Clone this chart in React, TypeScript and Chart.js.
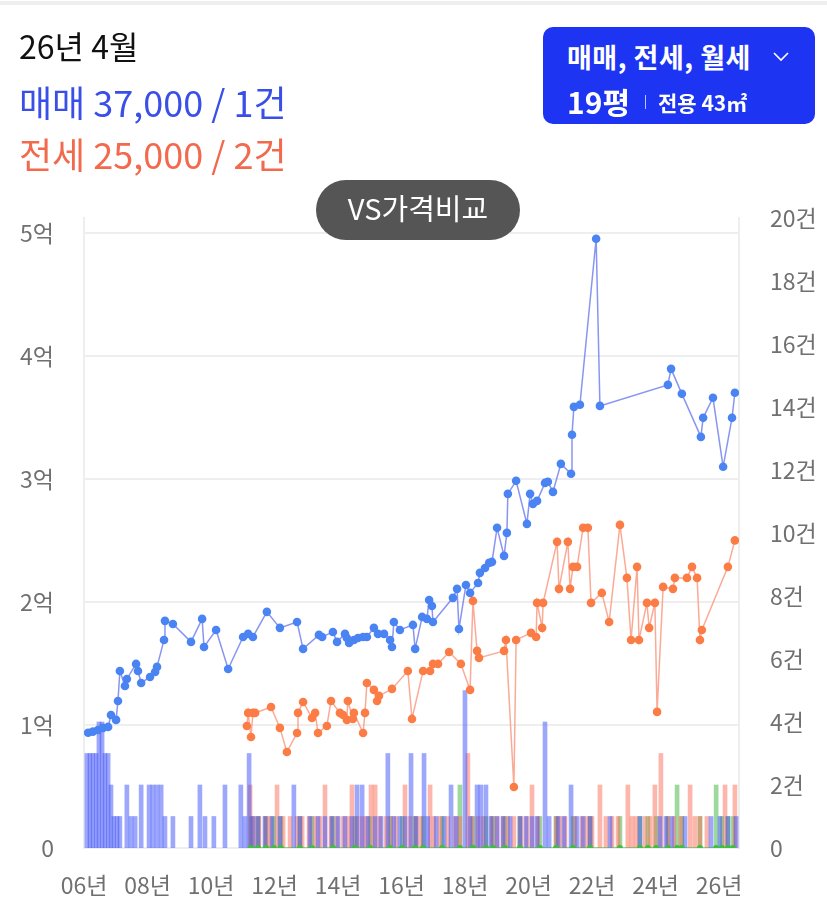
import React, { useEffect, useRef } from "react";
import { Chart, registerables } from "chart.js";

Chart.register(...registerables);

// ---- data ----
const xTickYears = [2006, 2008, 2010, 2012, 2014, 2016, 2018, 2020, 2022, 2024, 2026];
const priceTicks = [0, 10000, 20000, 30000, 40000, 50000];
const countTicks = [0, 2, 4, 6, 8, 10, 12, 14, 16, 18, 20];

// 매매 price line (만원)
const saleX = [
  2006.13, 2006.28, 2006.44, 2006.6, 2006.76, 2006.85, 2007.01, 2007.07, 2007.13, 2007.29, 2007.35,
  2007.64, 2007.7, 2007.8, 2008.08, 2008.24, 2008.3, 2008.52, 2008.55, 2008.8, 2009.37, 2009.72,
  2009.78, 2010.16, 2010.54, 2011.01, 2011.17, 2011.32, 2011.76, 2012.17, 2012.71, 2012.9, 2013.4,
  2013.5, 2013.84, 2013.97, 2014.22, 2014.28, 2014.35, 2014.5, 2014.63, 2014.79, 2014.91, 2015.13,
  2015.26, 2015.45, 2015.64, 2015.7, 2015.76, 2015.95, 2016.36, 2016.43, 2016.65, 2016.8, 2016.87,
  2016.96, 2016.99, 2017.62, 2017.75, 2017.81, 2018.03, 2018.16, 2018.41, 2018.47, 2018.63, 2018.76,
  2018.85, 2019.01, 2019.23, 2019.32, 2019.35, 2019.61, 2019.95, 2020.05, 2020.14, 2020.27, 2020.52,
  2020.61, 2020.77, 2021.02, 2021.34, 2021.37, 2021.43, 2021.62, 2022.13, 2022.25, 2024.39, 2024.49,
  2024.83, 2025.43, 2025.5, 2025.81, 2026.13, 2026.41, 2026.5,
];
const saleY = [
  9370, 9460, 9590, 9760, 9840, 10810, 10410, 11950, 14390, 13170, 13740,
  14960, 14390, 13410, 13900, 14310, 14720, 16910, 18460, 18210, 16750, 18620,
  16340, 17720, 14550, 17150, 17400, 17150, 19190, 17890, 18370, 16180, 17320,
  17150, 17560, 16750, 17400, 17070, 16670, 16910, 17070, 17150, 17150, 17890,
  17400, 17400, 16910, 16340, 18370, 17720, 18130, 16180, 18780, 18620, 20160,
  19670, 18370, 20330, 21060, 17800, 21380, 20730, 21540, 22360, 22760, 23170,
  23250, 26020, 23740, 25610, 28780, 29840, 26340, 28780, 27970, 28210, 29670,
  29760, 28940, 31220, 30410, 33580, 35850, 36020, 49510, 35930, 37640, 38940,
  36910, 33410, 34960, 36590, 30980, 34960, 37000,
];

// 전세 price line (만원)
const jeonseX = [
  2011.13, 2011.17, 2011.26, 2011.32, 2011.39, 2011.89, 2012.17, 2012.39, 2012.71, 2012.74, 2012.9,
  2013.18, 2013.28, 2013.37, 2013.65, 2013.78, 2014.06, 2014.16, 2014.28, 2014.31, 2014.47, 2014.5,
  2014.79, 2014.85, 2014.91, 2015.13, 2015.23, 2015.29, 2015.7, 2016.2, 2016.33, 2016.68, 2016.9,
  2016.99, 2017.15, 2017.5, 2017.87, 2018.16, 2018.25, 2018.38, 2018.44, 2019.23, 2019.29, 2019.54,
  2019.61, 2020.08, 2020.24, 2020.27, 2020.43, 2020.46, 2020.9, 2020.96, 2021.24, 2021.31, 2021.4,
  2021.53, 2021.72, 2021.87, 2021.97, 2022.31, 2022.54, 2022.88, 2023.1, 2023.23, 2023.42, 2023.48,
  2023.73, 2023.8, 2023.98, 2024.05, 2024.24, 2024.55, 2024.61, 2024.99, 2025.15, 2025.31, 2025.4,
  2025.46, 2026.28, 2026.5,
];
const jeonseY = [
  9920, 10980, 9020, 10980, 10980, 11460, 9760, 7800, 9350, 10980, 11870,
  10570, 10980, 9350, 9920, 11950, 10980, 10810, 10410, 11950, 10490, 10980,
  9350, 10980, 13410, 12850, 11950, 12360, 12930, 14390, 10490, 14390, 14390,
  14960, 14960, 15930, 14960, 12850, 20080, 16020, 15450, 16020, 16910, 4960,
  16910, 17480, 17150, 19920, 17890, 19920, 24880, 21060, 24880, 21060, 22850,
  22850, 26020, 26020, 19920, 20730, 18370, 26260, 21950, 16910, 22850, 16910,
  19920, 17890, 19920, 11060, 21220, 21060, 21950, 21950, 22850, 21950, 16910,
  17720, 22850, 25000,
];

// 월세 (monthly rent) markers
const rentX = [
  2011.26, 2011.48, 2011.73, 2011.98, 2012.2, 2012.8, 2013.18, 2013.84, 2014.54, 2015.01, 2015.64,
  2016.02, 2016.43, 2016.68, 2017.28, 2017.84, 2018.25, 2018.66, 2018.88, 2019.26, 2019.73, 2020.36,
  2020.87, 2021.4, 2021.94, 2022.88, 2023.51, 2023.76, 2024.02, 2024.39, 2024.68, 2024.83, 2025.4,
  2025.91, 2026.09, 2026.28, 2026.44,
];
const rentPriceY = [
  0, 0, 0, 0, 0, 0, 0, 0, 0, 0, 0,
  0, 0, 0, 0, 0, 0, 0, 0, 0, 0, 0,
  0, 0, 0, 0, 0, 0, 0, 0, 0, 0, 0,
  0, 0, 0, 0,
];
const rentCount = [
  1, 1, 1, 1, 1, 1, 1, 1, 1, 1, 1,
  1, 1, 1, 1, 2, 1, 1, 1, 1, 1, 1,
  1, 1, 1, 1, 1, 1, 1, 1, 2, 1, 1,
  2, 1, 1, 1,
];

// 매매 counts
const saleCountX = [
  2006.09, 2006.19, 2006.28, 2006.38, 2006.47, 2006.57, 2006.66, 2006.76, 2006.85, 2006.94, 2007.04,
  2007.13, 2007.35, 2007.48, 2007.61, 2007.8, 2008.05, 2008.17, 2008.3, 2008.43, 2008.55, 2008.8,
  2009.37, 2009.65, 2009.81, 2010.09, 2010.44, 2010.94, 2011.07, 2011.2, 2011.32, 2011.48, 2011.7,
  2011.92, 2012.17, 2012.61, 2012.8, 2013.12, 2013.37, 2013.59, 2013.81, 2014.0, 2014.22, 2014.44,
  2014.6, 2014.76, 2014.94, 2015.17, 2015.35, 2015.57, 2015.76, 2015.95, 2016.11, 2016.3, 2016.46,
  2016.71, 2016.83, 2017.09, 2017.34, 2017.56, 2017.72, 2018.0, 2018.16, 2018.38, 2018.5, 2018.66,
  2018.82, 2019.01, 2019.2, 2019.42, 2019.73, 2019.92, 2020.11, 2020.27, 2020.52, 2020.65, 2020.93,
  2021.12, 2021.34, 2021.53, 2021.72, 2021.94, 2022.57, 2023.51, 2024.14, 2024.33, 2024.52, 2024.93,
  2025.75, 2026.03, 2026.28, 2026.54,
];
const saleCount = [
  3, 3, 3, 3, 4, 4, 3, 3, 2, 1, 1,
  1, 2, 1, 1, 2, 2, 2, 2, 2, 1, 1,
  1, 2, 1, 1, 2, 2, 1, 3, 1, 1, 1,
  1, 1, 2, 1, 1, 1, 1, 1, 1, 1, 1,
  2, 2, 1, 1, 1, 3, 1, 1, 1, 3, 1,
  3, 1, 1, 1, 2, 1, 5, 1, 2, 2, 2,
  1, 1, 1, 1, 1, 1, 1, 1, 4, 1, 1,
  1, 2, 1, 1, 1, 1, 1, 1, 1, 1, 1,
  1, 1, 1, 1,
];

// 전세 counts
const jeonseCountX = [
  2011.23, 2011.35, 2011.51, 2011.73, 2011.86, 2012.08, 2012.27, 2012.49, 2012.71, 2012.87, 2013.09,
  2013.28, 2013.43, 2013.59, 2013.78, 2013.97, 2014.16, 2014.31, 2014.44, 2014.6, 2014.76, 2014.88,
  2015.04, 2015.17, 2015.32, 2015.51, 2015.67, 2015.83, 2016.11, 2016.27, 2016.46, 2016.61, 2016.9,
  2017.02, 2017.21, 2017.46, 2017.69, 2017.84, 2018.09, 2018.22, 2018.41, 2018.57, 2018.85, 2019.01,
  2019.2, 2019.35, 2019.54, 2019.76, 2019.95, 2020.11, 2020.3, 2020.87, 2020.99, 2021.15, 2021.46,
  2021.69, 2021.84, 2022.0, 2022.25, 2022.44, 2022.63, 2022.82, 2023.13, 2023.26, 2023.39, 2023.67,
  2023.83, 2023.98, 2024.17, 2024.39, 2024.58, 2024.8, 2025.09, 2025.24, 2025.4, 2025.62, 2026.19,
  2026.5,
];
const jeonseCount = [
  2, 1, 1, 1, 1, 2, 1, 1, 1, 1, 1,
  1, 1, 2, 1, 1, 1, 1, 2, 1, 1, 1,
  2, 2, 1, 1, 1, 1, 2, 1, 1, 1, 2,
  1, 1, 1, 1, 1, 3, 1, 1, 1, 1, 1,
  1, 1, 1, 1, 1, 2, 1, 1, 1, 1, 1,
  1, 1, 1, 2, 1, 1, 1, 2, 1, 1, 1,
  1, 2, 3, 1, 1, 1, 2, 1, 1, 1, 2,
  2,
];

const FONT = '"Noto Sans CJK KR", "Noto Sans", sans-serif';

export default function App() {
  const canvasRef = useRef<HTMLCanvasElement | null>(null);

  useEffect(() => {
    const canvas = canvasRef.current;
    if (!canvas) return;

    const pts = (xs: number[], ys: number[]) => xs.map((x, i) => ({ x, y: ys[i] }));

    const chart = new Chart(canvas, {
      type: "line",
      data: {
        datasets: [
          {
            type: "line",
            label: "매매",
            data: pts(saleX, saleY),
            yAxisID: "y",
            borderColor: "rgba(115,130,240,0.85)",
            borderWidth: 1.5,
            pointRadius: 4.3,
            pointBorderWidth: 0,
            pointBackgroundColor: "#4a84f2",
            tension: 0,
            order: 0,
          },
          {
            type: "line",
            label: "전세",
            data: pts(jeonseX, jeonseY),
            yAxisID: "y",
            borderColor: "rgba(250,155,130,0.85)",
            borderWidth: 1.5,
            pointRadius: 4.3,
            pointBorderWidth: 0,
            pointBackgroundColor: "#fb7c45",
            tension: 0,
            order: 0,
          },
          {
            type: "line",
            label: "월세",
            data: pts(rentX, rentPriceY),
            yAxisID: "y",
            borderColor: "rgba(70,190,70,0.7)",
            borderWidth: 1.5,
            pointRadius: 3,
            pointBorderWidth: 0,
            pointBackgroundColor: "#3fbf3f",
            tension: 0,
            order: 0,
          },
          {
            type: "bar",
            label: "매매 건수",
            data: pts(saleCountX, saleCount),
            yAxisID: "y1",
            backgroundColor: "rgba(60,80,250,0.5)",
            borderWidth: 0,
            barThickness: 4,
            grouped: false,
            order: 1,
          },
          {
            type: "bar",
            label: "전세 건수",
            data: pts(jeonseCountX, jeonseCount),
            yAxisID: "y1",
            backgroundColor: "rgba(250,110,90,0.5)",
            borderWidth: 0,
            barThickness: 4,
            grouped: false,
            order: 1,
          },
          {
            type: "bar",
            label: "월세 건수",
            data: pts(rentX, rentCount),
            yAxisID: "y1",
            backgroundColor: "rgba(60,180,60,0.5)",
            borderWidth: 0,
            barThickness: 4,
            grouped: false,
            order: 1,
          },
        ] as any,
      },
      options: {
        animation: false,
        responsive: false,
        layout: { padding: { top: 218, left: 0, right: 0, bottom: 0 } },
        plugins: { legend: { display: false }, tooltip: { enabled: false } },
        scales: {
          x: {
            type: "linear",
            min: 2006,
            max: 2026.63,
            offset: false,
            grid: { display: false, drawTicks: false, offset: false },
            border: { display: false },
            ticks: {
              autoSkip: false,
              maxRotation: 0,
              padding: 23,
              color: "#707070",
              font: { family: FONT, size: 23 },
              callback: (v: any) => `${String(v).slice(2)}년`,
            },
            afterBuildTicks: (axis: any) => {
              axis.ticks = xTickYears.map((v) => ({ value: v }));
            },
            afterFit: (s: any) => {
              s.height = 67;
            },
          },
          y: {
            type: "linear",
            position: "left",
            min: 0,
            max: 51200,
            grid: { color: "#eeeeee", lineWidth: 2, drawTicks: false },
            border: { display: true, color: "#eeeeee", width: 2 },
            ticks: {
              padding: 30,
              color: "#707070",
              font: { family: FONT, size: 23 },
              callback: (v: any) => (v === 0 ? "0" : `${v / 10000}억`),
            },
            afterBuildTicks: (axis: any) => {
              axis.ticks = priceTicks.map((v) => ({ value: v }));
            },
            afterFit: (s: any) => {
              s.width = 84;
            },
          },
          y1: {
            type: "linear",
            position: "right",
            min: 0,
            max: 20,
            grid: { display: false, drawTicks: false },
            border: { display: true, color: "#eeeeee", width: 2 },
            ticks: {
              padding: 31,
              color: "#707070",
              font: { family: FONT, size: 23 },
              callback: (v: any) => (v === 0 ? "0" : `${v}건`),
            },
            afterBuildTicks: (axis: any) => {
              axis.ticks = countTicks.map((v) => ({ value: v }));
            },
            afterFit: (s: any) => {
              s.width = 88;
            },
          },
        },
      } as any,
    });

    return () => chart.destroy();
  }, []);

  return (
    <div
      style={{
        position: "absolute",
        left: 0,
        top: 0,
        width: 827,
        height: 915,
        background: "#ffffff",
        fontFamily: FONT,
        overflow: "hidden",
      }}
    >
      <canvas
        ref={canvasRef}
        width={827}
        height={915}
        style={{ position: "absolute", left: 0, top: 0, width: 827, height: 915 }}
      />
      <div style={{ position: "absolute", left: 0, top: 1, width: 827, height: 4, background: "#eeeeee" }} />
      <div style={{ position: "absolute", left: 19, top: 25, fontSize: 32, lineHeight: "40px", color: "#111111" }}>
        26년 4월
      </div>
      <div style={{ position: "absolute", left: 19, top: 79, fontSize: 36, lineHeight: "44px", color: "#3a4fe8" }}>
        매매 37,000 / 1건
      </div>
      <div style={{ position: "absolute", left: 19, top: 131, fontSize: 36, lineHeight: "44px", color: "#f2694d" }}>
        전세 25,000 / 2건
      </div>

      <div
        style={{
          position: "absolute",
          left: 543,
          top: 27,
          width: 272,
          height: 97,
          background: "#1d35f3",
          borderRadius: 10,
          color: "#ffffff",
        }}
      >
        <div
          style={{
            position: "absolute",
            left: 24,
            top: 13,
            fontSize: 27,
            lineHeight: "34px",
            fontWeight: 700,
            letterSpacing: 0.5,
            whiteSpace: "nowrap",
          }}
        >
          매매, 전세, 월세
        </div>
        <svg style={{ position: "absolute", left: 229, top: 24 }} width="18" height="12" viewBox="0 0 18 12">
          <polyline points="2,2 9,9 16,2" fill="none" stroke="#ffffff" strokeWidth="1.6" />
        </svg>
        <div style={{ position: "absolute", left: 24, top: 56, fontSize: 30, lineHeight: "36px", fontWeight: 700 }}>
          19평
        </div>
        <div style={{ position: "absolute", left: 102, top: 68, width: 1, height: 14, background: "rgba(255,255,255,0.7)" }} />
        <div
          style={{
            position: "absolute",
            left: 115,
            top: 61,
            fontSize: 21,
            lineHeight: "28px",
            fontWeight: 700,
            whiteSpace: "nowrap",
          }}
        >
          전용 43㎡
        </div>
      </div>

      <div
        style={{
          position: "absolute",
          left: 316,
          top: 180,
          width: 204,
          height: 60,
          borderRadius: 30,
          background: "#555555",
          color: "#ffffff",
          fontSize: 29,
          lineHeight: "54px",
          textAlign: "center",
          whiteSpace: "nowrap",
        }}
      >
        VS가격비교
      </div>
    </div>
  );
}
